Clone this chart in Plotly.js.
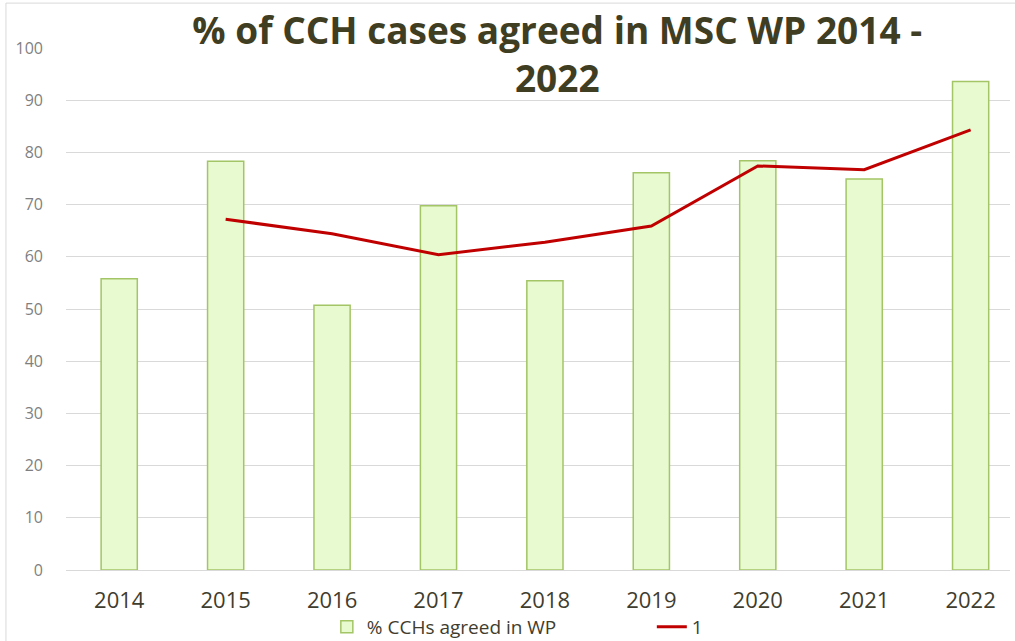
<!DOCTYPE html>
<html><head><meta charset="utf-8">
<script src="https://cdn.plot.ly/plotly-3.0.1.min.js"></script>
<style>html,body{margin:0;padding:0;background:#fff;}#chart{width:1015px;height:641px;}</style>
</head><body><div id="chart"></div>
<script>
const years = ['2014','2015','2016','2017','2018','2019','2020','2021','2022'];
const pctAgreed = [55.8, 78.3, 50.7, 69.8, 55.4, 76.1, 78.4, 74.9, 93.6];
const lineYears = ['2015','2016','2017','2018','2019','2020','2021','2022'];
const lineValues = [67.2, 64.4, 60.4, 62.8, 65.9, 77.4, 76.7, 84.3];
const yTicks = [0,10,20,30,40,50,60,70,80,90,100];

const traces = [
  {type:'bar', x: years, y: pctAgreed, name:'% CCHs agreed in WP', width:0.34,
   marker:{color:'#E8FAD0', line:{color:'#A3C566', width:1.5}}},
  {type:'scatter', mode:'lines', x: lineYears, y: lineValues, name:'1',
   line:{color:'#C00000', width:3}}
];
const layout = {
  width:1015, height:641,
  margin:{l:66, r:5, t:48, b:71, autoexpand:false},
  paper_bgcolor:'#fff', plot_bgcolor:'#fff',
  font:{family:'Open Sans, sans-serif'},
  title:{text:'<b>% of CCH cases agreed in MSC WP 2014 -<br>2022</b>', x:0.549, xanchor:'center',
         yref:'container', y:0.932, yanchor:'top',
         font:{size:37, color:'#3F3D22', family:'Open Sans, sans-serif'}},
  xaxis:{type:'category', categoryorder:'array', categoryarray: years, range:[-0.5, 8.37],
         showgrid:false, showline:false, zeroline:false, ticks:'', ticklabelstandoff:15,
         tickfont:{size:22, color:'#3F3D2E'}},
  yaxis:{range:[0,100], tickvals:yTicks, showgrid:true, gridcolor:'#D9D9D9', gridwidth:1,
         zeroline:true, zerolinecolor:'#D9D9D9', zerolinewidth:1, showline:false, ticks:'',
         ticklabelstandoff:22, tickfont:{size:16, color:'#7F7F7F'}},
  showlegend:true,
  legend:{orientation:'h', xref:'container', x:0.322, xanchor:'left', yref:'container', y:0.022, yanchor:'middle',
          bgcolor:'rgba(0,0,0,0)', entrywidth:280,
          font:{size:19, color:'#3F3D2E'}, traceorder:'normal'},
  shapes:[{type:'rect', xref:'paper', yref:'paper', x0:-0.0636, x1:1.2, y0:-0.3, y1:1.086,
           line:{color:'#D9D9D9', width:1}, fillcolor:'rgba(0,0,0,0)', layer:'below'}],
  bargap:0.5
};
Plotly.newPlot('chart', traces, layout, {displayModeBar:false, staticPlot:true});
</script></body></html>
